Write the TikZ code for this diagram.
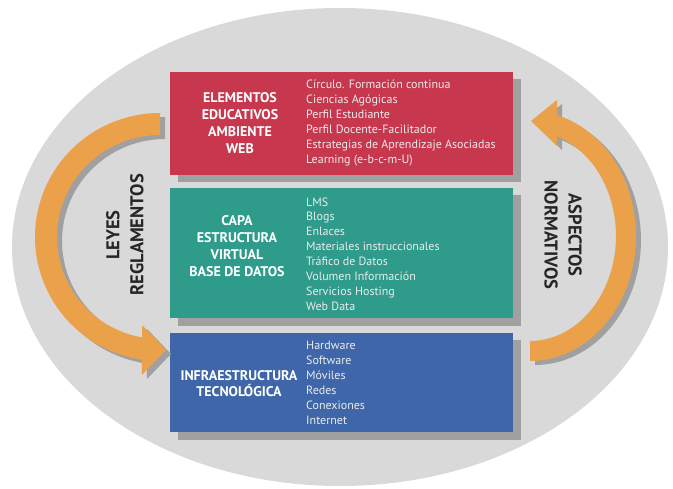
\documentclass[tikz,border=0pt]{standalone}
\usepackage{fontspec}
\setmainfont{PT Sans}
\definecolor{bgell}{HTML}{D9D9D9}
\definecolor{boxred}{HTML}{C7384F}
\definecolor{boxteal}{HTML}{2F9C8B}
\definecolor{boxblue}{HTML}{3F66A9}
\definecolor{arrorange}{HTML}{EBA04A}
\definecolor{shadowgrey}{HTML}{A0A0A0}
\begin{document}
\begin{tikzpicture}[x=1pt,y=-1pt,
  layer/.style={draw=none, inner sep=0pt, anchor=north west},
  heading/.style={align=center, text=white, inner sep=0pt,
    font=\fontsize{14}{16.8}\selectfont\bfseries},
  items/.style={align=left, anchor=west, inner sep=0pt, text=white!92!black,
    font=\fontsize{12}{14.9}\selectfont},
  sidelabel/.style={align=center, inner sep=0pt, text=black!85,
    font=\fontsize{18.5}{24}\selectfont\bfseries}]
\useasboundingbox (0,0) rectangle (673,489);
\fill[white] (0,0) rectangle (673,489);
% background ellipse
\fill[bgell] (340,247) ellipse [x radius=328, y radius=239];

% shadows of the boxes
\fill[shadowgrey] (178,79) rectangle (521,182);
\fill[shadowgrey] (178,195) rectangle (521,326);
\fill[shadowgrey] (178,340) rectangle (521,440);

% boxes
\node[layer, fill=boxred, minimum width=343pt, minimum height=103pt] (red) at (170,72) {};
\node[layer, fill=boxteal, minimum width=343pt, minimum height=130pt] (teal) at (170,188) {};
\node[layer, fill=boxblue, minimum width=343pt, minimum height=99pt] (blue) at (170,333) {};

% headings
\node[heading] (h1) at (240,123) {ELEMENTOS\\EDUCATIVOS\\AMBIENTE\\WEB};
\node[heading] (h2) at (237,246) {CAPA\\ESTRUCTURA\\VIRTUAL\\BASE DE DATOS};
\node[heading] (h3) at (239,383.5) {INFRAESTRUCTURA\\TECNOLÓGICA};

% item lists
\node[items] (l1) at (306,123) {Círculo. Formación continua\\Ciencias Agógicas\\Perfil Estudiante\\Perfil Docente-Facilitador\\Estrategias de Aprendizaje Asociadas\\Learning (e-b-c-m-U)};
\node[items] (l2) at (306,254) {LMS\\Blogs\\Enlaces\\Materiales instruccionales\\Tráfico de Datos\\Volumen Información\\Servicios Hosting\\Web Data};
\node[items] (l3) at (306,383) {Hardware\\Software\\Móviles\\Redes\\Conexiones\\Internet};

% left arrow (shadow, then orange)
\foreach \dx/\dy/\col in {5/4/shadowgrey, 0/0/arrorange}{
  \fill[\col, shift={(\dx pt,-\dy pt)}]
    plot[domain=-90:-261.7, samples=60] ({160+125*cos(\x)}, {237+124*sin(\x)})
    -- (142,375) -- (166,350) -- (142,325) -- (142,337.4)
    -- plot[domain=-259.9:-90, samples=60] ({160+103*cos(\x)}, {237+102*sin(\x)})
    -- cycle;
}
% right arrow (shadow, then orange)
\foreach \dx/\dy/\col in {5/4/shadowgrey, 0/0/arrorange}{
  \fill[\col, shift={(\dx pt,-\dy pt)}]
    plot[domain=90:-75.2, samples=60] ({530+106*cos(\x)}, {236+125*sin(\x)})
    -- (557,100) -- (531,121) -- (557,146) -- (557,136.3)
    -- plot[domain=-71.7:90, samples=60] ({530+86*cos(\x)}, {236+105*sin(\x)})
    -- cycle;
}

% side labels
\node[sidelabel, rotate=90] (leyes) at (125,235) {LEYES\\REGLAMENTOS};
\node[sidelabel, rotate=-90] (normas) at (563,235) {ASPECTOS\\NORMATIVOS};
\end{tikzpicture}
\end{document}
